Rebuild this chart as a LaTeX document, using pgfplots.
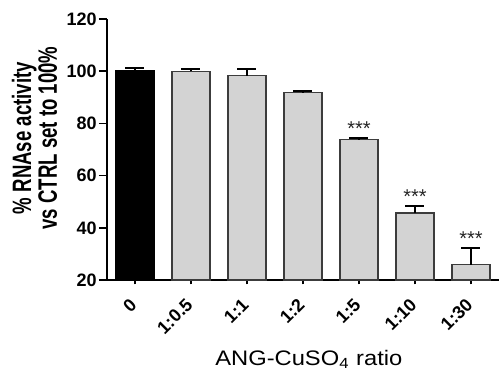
\documentclass[border=0pt]{standalone}
\usepackage{pgfplots}
\pgfplotsset{compat=1.18}
\usepackage{fontspec}
\setmainfont{Liberation Sans}
\definecolor{barg}{RGB}{211,211,211}
\definecolor{edge}{RGB}{60,60,60}
\begin{document}
\begin{tikzpicture}
\begin{axis}[
  scale only axis,
  width=196pt, height=130.5pt,
  xmin=-0.5, xmax=6.5, ymin=20, ymax=120,
  ytick={20,40,60,80,100,120},
  xtick={0,1,2,3,4,5,6},
  xticklabels={0,1:0.5,1:1,1:2,1:5,1:10,1:30},
  axis x line*=bottom, axis y line*=left,
  axis line style={-, line width=0.75pt, black},
  tick style={black, line width=0.75pt},
  tick align=outside, major tick length=4pt,
  xtick style={/pgfplots/major tick length=2.2pt},
  /pgf/number format/assume math mode=true,
  ticklabel style={font=\fontsize{9}{10}\selectfont\bfseries},
  yticklabel style={inner sep=1pt},
  xticklabel style={anchor=east, rotate=45, inner sep=1pt},
  xticklabel shift=6pt,
  xlabel={\scalebox{1.13}[1]{ANG-CuSO\textsubscript{4} ratio}},
  xlabel style={font=\fontsize{10.5}{12}\selectfont, at={(axis description cs:0.515,-0.326)}, anchor=base},
  ylabel={\scalebox{1}[1.43]{\begin{tabular}{@{}c@{}}\% RNAse activity\\[-2.2pt]vs CTRL set to 100\%\end{tabular}}},
  ylabel style={font=\fontsize{9.3}{11.2}\selectfont\bfseries, at={(axis description cs:-0.177,0.544)}, anchor=center},
  clip=true,
]
\addplot[ybar, bar width=19pt, fill=black, draw=black, line width=0.6pt,
  error bars/.cd, y dir=plus, y explicit,
  error bar style={line width=0.8pt, black},
  error mark options={rotate=90, mark size=4.75pt, line width=1pt, black}]
  coordinates {(0,100.1) +- (0,1.1)};
\addplot[ybar, bar width=19pt, fill=barg, draw=edge, line width=0.6pt,
  error bars/.cd, y dir=plus, y explicit,
  error bar style={line width=0.8pt, black},
  error mark options={rotate=90, mark size=4.75pt, line width=1pt, black}]
  coordinates {
    (1,99.9) +- (0,0.8)
    (2,98.3) +- (0,2.5)
    (3,91.8) +- (0,0.7)
    (4,73.8) +- (0,0.5)
    (5,45.7) +- (0,2.7)
    (6,25.9) +- (0,6.4)
  };
\addplot[draw=none, mark=none, nodes near coords, point meta=explicit symbolic,
  nodes near coords style={anchor=south, inner sep=0pt, yshift=1pt, font=\fontsize{10}{12}\selectfont, text=black!85}]
  coordinates {(4,74.3)[***] (5,48.4)[***] (6,32.3)[***]};
\end{axis}
\pgfresetboundingbox
\path[use as bounding box] (-53.5pt,-46pt) rectangle (196pt,140pt);
\end{tikzpicture}
\end{document}
